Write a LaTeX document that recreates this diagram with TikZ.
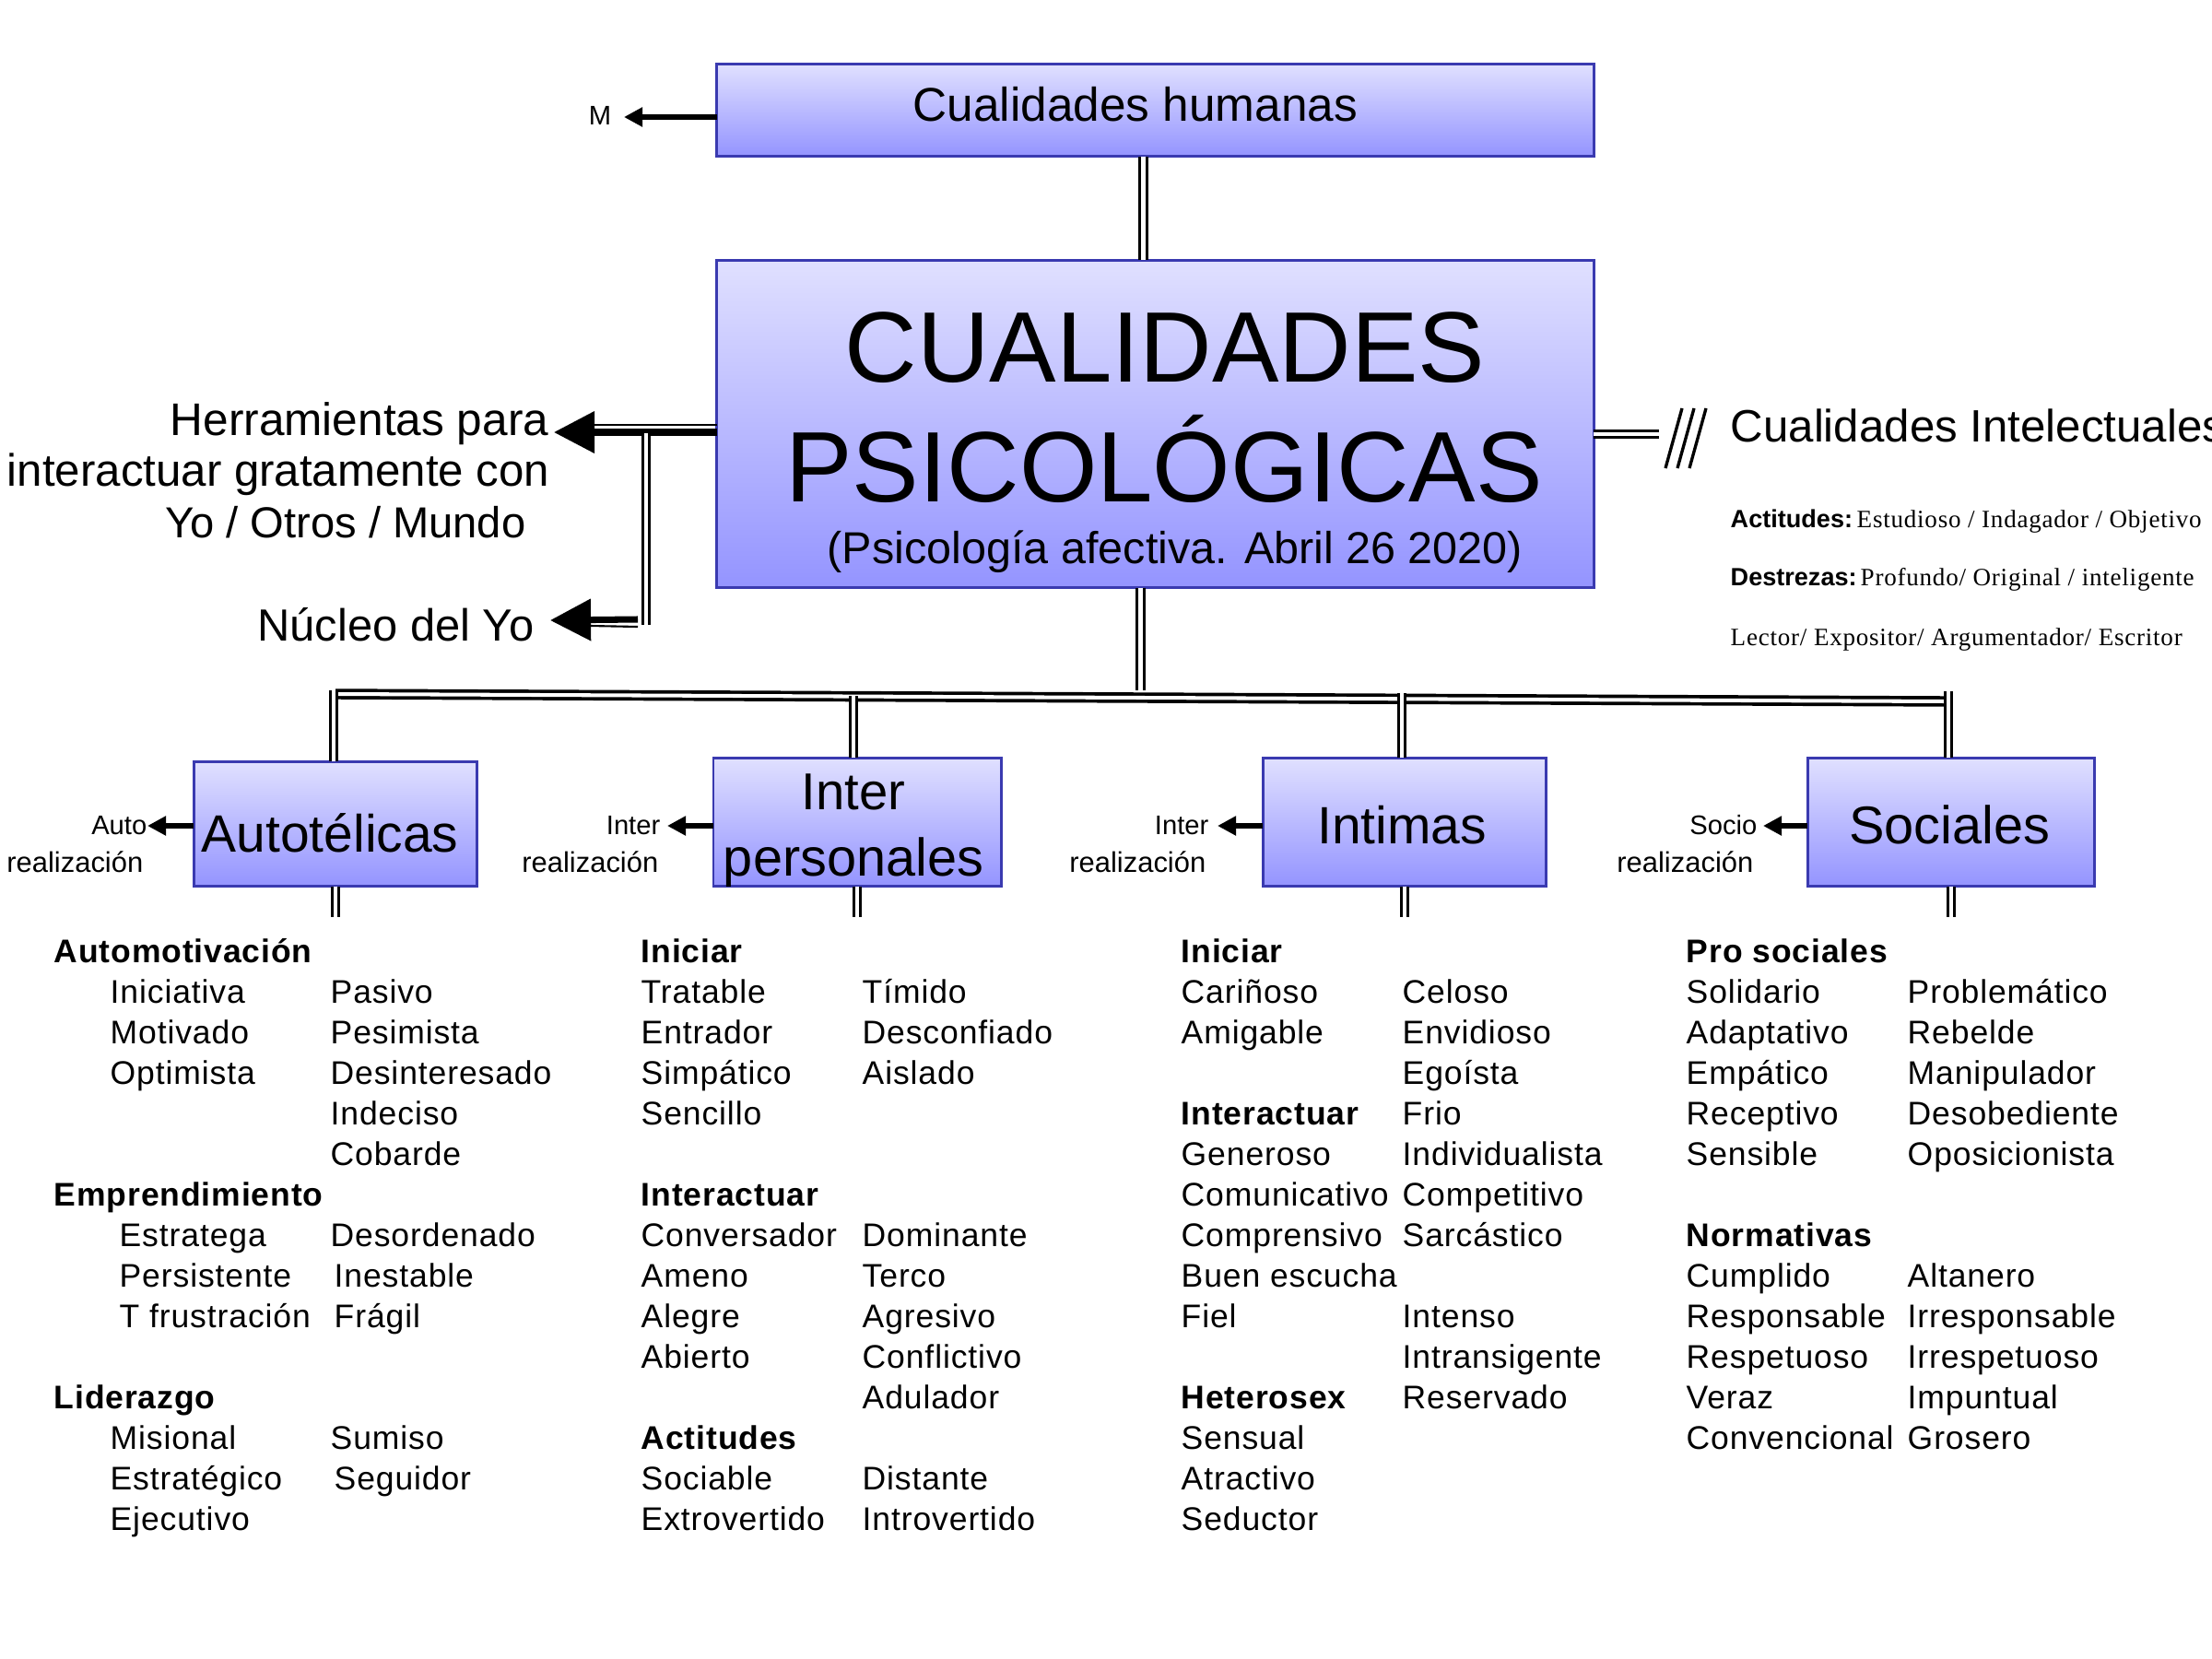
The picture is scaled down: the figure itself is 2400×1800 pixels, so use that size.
\documentclass[tikz,border=0pt]{standalone}
\usepackage{fontspec}
\setmainfont{Liberation Sans}
\newfontfamily\listfont[LetterSpace=2.5]{Liberation Sans}
\newfontfamily\serifnote[LetterSpace=2.8]{Liberation Serif}
\usetikzlibrary{arrows.meta}

\begin{document}
\begin{tikzpicture}[
    x=0.01cm,
    y=-0.01cm,
    box/.style={
        rectangle,
        draw=boxline,
        line width=0.8pt,
        top color=boxtop,
        bottom color=boxbottom,
        inner sep=0pt,
        outer sep=0pt
    },
    dbl/.style={
        draw=black,
        line width=0.85pt,
        double=white,
        double distance=1.15pt
    },
    bigarrow/.style={
        -{Triangle[length=0.44cm,width=0.44cm]},
        line width=2pt
    },
    smallarrow/.style={
        -{Triangle[length=0.2cm,width=0.2cm]},
        line width=1.6pt
    },
    txt/.style={anchor=base, inner sep=0pt},
    txtleft/.style={anchor=base west, inner sep=0pt},
    txtright/.style={anchor=base east, inner sep=0pt},
    listitem/.style={txtleft, font=\fontsize{10.1}{12}\listfont},
    listhead/.style={txtleft, font=\fontsize{10.1}{12}\listfont\bfseries},
    sidetop/.style={txtright, font=\fontsize{8.3}{10}\selectfont},
    sidelow/.style={txtright, font=\fontsize{8.8}{10}\selectfont},
    note/.style={txtleft, font=\fontsize{7.7}{10}\serifnote}
]
\definecolor{boxline}{HTML}{3A3AB0}
\definecolor{boxtop}{HTML}{E0E0FF}
\definecolor{boxbottom}{HTML}{9494FF}

\useasboundingbox (0,0) rectangle (2400,1800);
\clip (0,0) rectangle (2400,1800);

% Top box
\node[box, minimum width=9.51cm, minimum height=1.00cm] (humanas) at (1253.5,119.5) {};
\node[txt, font=\fontsize{14.6}{17}\selectfont] (humanastxt) at (1232,132) {Cualidades humanas};
\node[font=\fontsize{8.3}{10}\selectfont, inner sep=0pt] (m) at (651,125) {M};

% Main box
\node[box, minimum width=9.51cm, minimum height=3.55cm] (main) at (1253.5,460) {};
\node[txt, font=\fontsize{30.9}{36}\selectfont] (cual) at (1264,414) {CUALIDADES};
\node[txt, font=\fontsize{30.9}{36}\selectfont] (psico) at (1263,544) {PSICOLÓGICAS};
\node[txt, font=\fontsize{13.8}{16}\selectfont] (afect) at (1275,611) {(Psicología afectiva. Abril 26 2020)};

% Left side texts
\node[txtright, font=\fontsize{14.1}{16}\selectfont] (herr1) at (596,472) {Herramientas para};
\node[txtright, font=\fontsize{14}{16}\selectfont] (herr2) at (597,527) {interactuar gratamente con};
\node[txtright, font=\fontsize{13.4}{16}\selectfont] (herr3) at (571,583) {Yo / Otros / Mundo};
\node[txtright, font=\fontsize{13.9}{16}\selectfont] (nucleo) at (580,695) {Núcleo del Yo};

% Right side texts
\node[txtleft, font=\fontsize{14}{16}\selectfont] (intel) at (1877,479) {Cualidades Intelectuales};
\node[txtleft, font=\fontsize{7.7}{10}\selectfont\bfseries] (acti) at (1877,572) {Actitudes:};
\node[note] (actinote) at (2014,572) {Estudioso / Indagador / Objetivo};
\node[txtleft, font=\fontsize{7.7}{10}\selectfont\bfseries] (destr) at (1877,635) {Destrezas:};
\node[note] (destrnote) at (2018,635) {Profundo/ Original / inteligente};
\node[note] (lector) at (1877,700) {Lector/ Expositor/ Argumentador/ Escritor};

% Group boxes
\node[box, minimum width=3.07cm, minimum height=1.35cm] (auto) at (364,894) {};
\node[box, minimum width=3.12cm, minimum height=1.39cm] (inter) at (930,892) {};
\node[box, minimum width=3.07cm, minimum height=1.39cm] (intimas) at (1524,892) {};
\node[box, minimum width=3.11cm, minimum height=1.39cm] (sociales) at (2117,892) {};
\node[txt, font=\fontsize{16.2}{19}\selectfont] (autotxt) at (358,924) {Autotélicas};
\node[txt, font=\fontsize{16}{19}\selectfont] (intertxt) at (926,878) {Inter};
\node[txt, font=\fontsize{16.4}{19}\selectfont] (perstxt) at (926,950) {personales};
\node[txt, font=\fontsize{16.2}{19}\selectfont] (intimastxt) at (1521,915) {Intimas};
\node[txt, font=\fontsize{16.4}{19}\selectfont] (socialestxt) at (2115,915) {Sociales};

% Realization labels
\node[sidetop] (autoa) at (160,905) {Auto};
\node[sidelow] (autob) at (156,946) {realización};
\node[sidetop] (intera) at (717,905) {Inter};
\node[sidelow] (interb) at (715,946) {realización};
\node[sidetop] (intima) at (1312,905) {Inter};
\node[sidelow] (intimb) at (1309,946) {realización};
\node[sidetop] (socioa) at (1907,905) {Socio};
\node[sidelow] (sociob) at (1903,946) {realización};

% Connector ends
\coordinate (mtip) at (677,127);
\coordinate (herrtip) at (601,469);
\coordinate (nucltip) at (597,673);
\coordinate (corner) at (701,673);
\coordinate (branch) at (701,470);
\coordinate (barL) at (364,753);
\coordinate (barR) at (2114,761);
\coordinate (intelend) at (1800,471);

% Upper connectors
\draw[dbl] ([xshift=-0.13cm]humanas.south) -- ([xshift=-0.13cm]main.north);
\draw[smallarrow] (humanas.west |- mtip) -- (mtip);
\draw[dbl] (main.east |- intelend) -- (intelend);
\foreach \sx in {0,13,26}
    \draw[line width=0.95pt] (1825+\sx,443) -- (1807+\sx,508);

% Tools and core
\draw[line width=0.6pt] (main.west |- 0,461) -- (640,461);
\draw[bigarrow] (main.west |- herrtip) -- (herrtip);
\draw[dbl] (branch) -- (corner |- 0,678);
\draw[bigarrow] (692,672) -- (nucltip);
\draw[line width=0.6pt] (692,680) -- (640,679);

% Bar and branches
\draw[dbl] ([xshift=-0.16cm]main.south) -- ([xshift=-0.16cm]main.south |- 0,749);
\draw[dbl, line width=1.05pt] (barL) -- (barR);
\draw[dbl] ([xshift=-0.02cm]auto.north) -- ([xshift=-0.02cm]auto.north |- 0,749);
\draw[dbl] ([xshift=-0.04cm]inter.north) -- ([xshift=-0.04cm]inter.north |- 0,755);
\draw[dbl] ([xshift=-0.03cm]intimas.north) -- ([xshift=-0.03cm]intimas.north |- 0,752);
\draw[dbl] ([xshift=-0.03cm]sociales.north) -- ([xshift=-0.03cm]sociales.north |- 0,750);

% Stems and side arrows
\foreach \b in {auto,inter,intimas,sociales}
    \draw[dbl] (\b.south) -- ++(0,33);
\draw[smallarrow] (auto.west |- 0,896) -- (autoa.east |- 0,896);
\draw[smallarrow] (inter.west |- 0,896) -- (724,896);
\draw[smallarrow] (intimas.west |- 0,896) -- (1321,896);
\draw[smallarrow] (sociales.west |- 0,896) -- (1913,896);

% Autotelicas lists
\foreach \xp/\r/\t [count=\n] in {58/0/Automotivación,58/6/Emprendimiento,58/11/Liderazgo}
    \node[listhead] (ah\n) at (\xp,{1044+44*\r}) {\t};
\foreach \xp/\r/\t [count=\n] in {119/1/Iniciativa,119/2/Motivado,119/3/Optimista,129/7/Estratega,129/8/Persistente,129/9/T frustración,119/12/Misional,119/13/Estratégico,119/14/Ejecutivo,358/1/Pasivo,358/2/Pesimista,358/3/Desinteresado,358/4/Indeciso,358/5/Cobarde,358/7/Desordenado,362/8/Inestable,362/9/Frágil,358/12/Sumiso,362/13/Seguidor}
    \node[listitem] (a\n) at (\xp,{1044+44*\r}) {\t};

% Interpersonales lists
\foreach \xp/\r/\t [count=\n] in {695/0/Iniciar,695/6/Interactuar,695/12/Actitudes}
    \node[listhead] (bh\n) at (\xp,{1044+44*\r}) {\t};
\foreach \xp/\r/\t [count=\n] in {695/1/Tratable,695/2/Entrador,695/3/Simpático,695/4/Sencillo,695/7/Conversador,695/8/Ameno,695/9/Alegre,695/10/Abierto,695/13/Sociable,695/14/Extrovertido,935/1/Tímido,935/2/Desconfiado,935/3/Aislado,935/7/Dominante,935/8/Terco,935/9/Agresivo,935/10/Conflictivo,935/11/Adulador,935/13/Distante,935/14/Introvertido}
    \node[listitem] (b\n) at (\xp,{1044+44*\r}) {\t};

% Intimas lists
\foreach \xp/\r/\t [count=\n] in {1281/0/Iniciar,1281/4/Interactuar,1281/11/Heterosex}
    \node[listhead] (ch\n) at (\xp,{1044+44*\r}) {\t};
\foreach \xp/\r/\t [count=\n] in {1281/1/Cariñoso,1281/2/Amigable,1281/5/Generoso,1281/6/Comunicativo,1281/7/Comprensivo,1281/8/Buen escucha,1281/9/Fiel,1281/12/Sensual,1281/13/Atractivo,1281/14/Seductor,1521/1/Celoso,1521/2/Envidioso,1521/3/Egoísta,1521/4/Frio,1521/5/Individualista,1521/6/Competitivo,1521/7/Sarcástico,1521/9/Intenso,1521/10/Intransigente,1521/11/Reservado}
    \node[listitem] (c\n) at (\xp,{1044+44*\r}) {\t};

% Sociales lists
\foreach \xp/\r/\t [count=\n] in {1829/0/Pro sociales,1829/7/Normativas}
    \node[listhead] (dh\n) at (\xp,{1044+44*\r}) {\t};
\foreach \xp/\r/\t [count=\n] in {1829/1/Solidario,1829/2/Adaptativo,1829/3/Empático,1829/4/Receptivo,1829/5/Sensible,1829/8/Cumplido,1829/9/Responsable,1829/10/Respetuoso,1829/11/Veraz,1829/12/Convencional,2069/1/Problemático,2069/2/Rebelde,2069/3/Manipulador,2069/4/Desobediente,2069/5/Oposicionista,2069/8/Altanero,2069/9/Irresponsable,2069/10/Irrespetuoso,2069/11/Impuntual,2069/12/Grosero}
    \node[listitem] (d\n) at (\xp,{1044+44*\r}) {\t};

\end{tikzpicture}
\end{document}
